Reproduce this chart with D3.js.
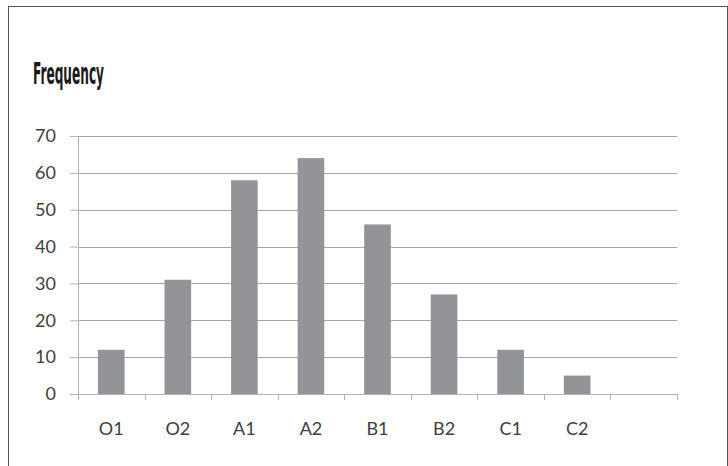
<!DOCTYPE html>
<html>
<head>
<meta charset="utf-8">
<script src="https://cdn.jsdelivr.net/npm/d3@7"></script>
<style>
  body { margin: 0; background: #fff; }
  svg { display: block; }
</style>
</head>
<body>
<svg id="chart"></svg>
<script>
// CHART DATA //
var categories = ["O1", "O2", "A1", "A2", "B1", "B2", "C1", "C2", ""]
var frequency = [12, 31, 58, 64, 46, 27, 12, 5, null]
var yTicks = [0, 10, 20, 30, 40, 50, 60, 70]
var title = "Frequency"

// DRAW CHART //
function drawChart() {
    var width = 728
    var height = 466
    var margin = {top: 136, right: 51, bottom: 72, left: 78}

    var svg = d3.select('#chart')
        .attr('width', width)
        .attr('height', height)

    // frame
    svg.append('rect')
        .attr('x', 8.5).attr('y', 6.5)
        .attr('width', width - 9).attr('height', height)
        .attr('fill', 'none')
        .attr('stroke', '#555')
        .attr('stroke-width', 1)

    svg.append('text')
        .attr('x', 33).attr('y', 84)
        .attr('font-family', 'Liberation Sans Narrow, DejaVu Sans Condensed, sans-serif')
        .attr('font-weight', 'bold')
        .attr('font-size', 30)
        .attr('textLength', 71)
        .attr('lengthAdjust', 'spacingAndGlyphs')
        .attr('fill', '#1a1a1a')
        .text(title)

    var plotW = width - margin.left - margin.right
    var plotH = height - margin.top - margin.bottom

    var g = svg.append('g')
        .attr('transform', `translate(${margin.left},${margin.top})`)

    var xb = d3.scaleBand().domain(categories.map((d, i) => i)).range([0, plotW])
    var y = d3.scaleLinear().domain([0, 70]).range([plotH, 0])

    // gridlines
    g.append('g')
        .selectAll('line')
        .data(yTicks.filter(d => d > 0))
        .enter()
        .append('line')
        .attr('x1', 0).attr('x2', plotW)
        .attr('y1', d => Math.round(y(d)) + 0.5).attr('y2', d => Math.round(y(d)) + 0.5)
        .attr('stroke', '#a6a6a6')
        .attr('stroke-width', 1)

    // bars (gap width 150%)
    var barW = xb.bandwidth() / 2.5
    g.selectAll('.bar')
        .data(frequency.map((v, i) => ({i: i, v: v})).filter(d => d.v !== null))
        .enter()
        .append('rect')
        .attr('class', 'bar')
        .attr('x', d => xb(d.i) + (xb.bandwidth() - barW) / 2)
        .attr('width', barW)
        .attr('y', d => y(d.v))
        .attr('height', d => plotH - y(d.v))
        .attr('fill', '#939497')

    // y axis
    var yAxis = g.append('g')
        .call(d3.axisLeft(y).tickValues(yTicks).tickSize(8).tickPadding(14))
    yAxis.select('.domain').attr('stroke', '#b3b3b3')
    yAxis.selectAll('.tick line').attr('stroke', '#b3b3b3')
    yAxis.selectAll('.tick text')
        .attr('font-family', 'Lato, sans-serif')
        .attr('font-size', 18)
        .attr('fill', '#404040')

    // x axis
    var xAxis = g.append('g')
        .attr('transform', `translate(0,${plotH})`)
        .call(d3.axisBottom(xb).tickSize(0).tickFormat((d, i) => categories[i]).tickPadding(28))
    xAxis.select('.domain').attr('stroke', '#b3b3b3')
    xAxis.selectAll('.tick text')
        .attr('font-family', 'Lato, sans-serif')
        .attr('font-size', 18)
        .attr('fill', '#404040')

    // tick marks between categories
    g.append('g')
        .selectAll('line')
        .data(d3.range(categories.length + 1))
        .enter()
        .append('line')
        .attr('x1', d => Math.round(d * xb.step()) + 0.5)
        .attr('x2', d => Math.round(d * xb.step()) + 0.5)
        .attr('y1', plotH).attr('y2', plotH + 6)
        .attr('stroke', '#b3b3b3')
}

drawChart()
</script>
</body>
</html>
